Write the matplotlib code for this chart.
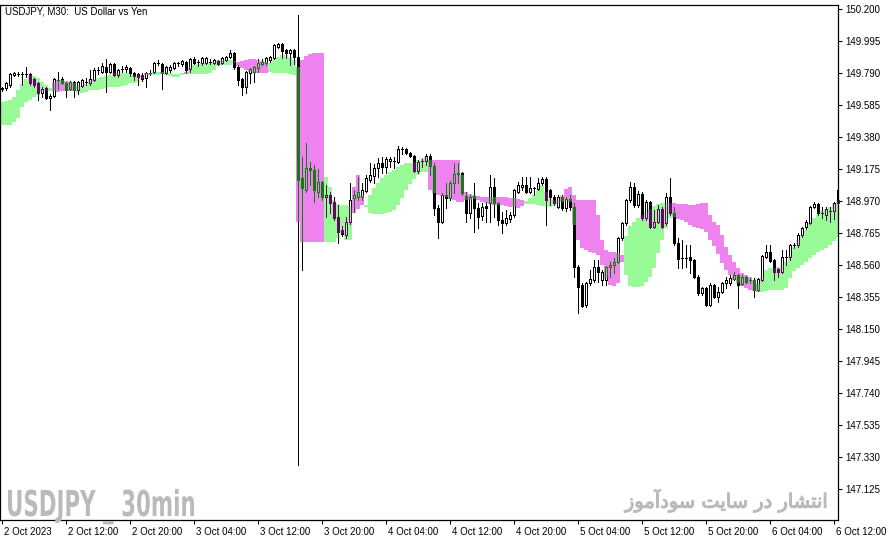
import numpy as np
import matplotlib
matplotlib.use("Agg")
import matplotlib.pyplot as plt
from matplotlib.patches import Rectangle, PathPatch
from matplotlib.textpath import TextPath
from matplotlib.font_manager import FontProperties
from matplotlib import transforms
import matplotlib.patheffects as pe

# USDJPY M30 bars, 2 Oct 2023 -> 6 Oct 2023
OPEN = [149.688, 149.694, 149.713, 149.778, 149.784, 149.786, 149.784, 149.784, 149.752, 149.726,
        149.662, 149.694, 149.630, 149.643, 149.745, 149.752, 149.726, 149.688, 149.733, 149.681,
        149.707, 149.733, 149.726, 149.745, 149.810, 149.797, 149.829, 149.797, 149.848, 149.778,
        149.816, 149.816, 149.822, 149.790, 149.784, 149.778, 149.758, 149.790, 149.797, 149.854,
        149.848, 149.790, 149.810, 149.822, 149.854, 149.848, 149.861, 149.816, 149.880, 149.861,
        149.854, 149.854, 149.861, 149.854, 149.867, 149.854, 149.874, 149.893, 149.918, 149.829,
        149.752, 149.701, 149.790, 149.797, 149.822, 149.848, 149.854, 149.874, 149.886, 149.957,
        149.976, 149.938, 149.918, 149.938, 149.893, 149.118, 149.041, 149.182, 149.169, 149.028,
        149.092, 148.996, 149.009, 148.964, 148.868, 148.785, 148.753, 148.836, 148.990, 148.996,
        148.996, 149.035, 149.105, 149.131, 149.182, 149.214, 149.188, 149.227, 149.227, 149.220,
        149.303, 149.303, 149.278, 149.259, 149.163, 149.227, 149.227, 149.259, 149.195, 148.926,
        148.836, 149.009, 148.990, 149.086, 149.150, 149.150, 149.002, 148.894, 149.002, 148.926,
        148.874, 148.938, 148.958, 149.060, 148.958, 148.849, 148.829, 148.855, 148.881, 149.028,
        149.060, 149.073, 149.028, 149.054, 149.047, 149.086, 149.111, 149.041, 148.996, 148.932,
        148.996, 148.926, 148.983, 148.932, 148.548, 148.432, 148.304, 148.445, 148.464, 148.548,
        148.464, 148.464, 148.548, 148.561, 148.580, 148.733, 148.829, 148.977, 149.060, 148.945,
        149.015, 148.862, 148.964, 148.804, 148.836, 148.919, 148.829, 148.996, 148.894, 148.701,
        148.605, 148.605, 148.612, 148.593, 148.484, 148.381, 148.413, 148.304, 148.432, 148.356,
        148.387, 148.445, 148.445, 148.471, 148.496, 148.439, 148.484, 148.464, 148.464, 148.400,
        148.464, 148.612, 148.644, 148.593, 148.535, 148.516, 148.612, 148.612, 148.688, 148.688,
        148.753, 148.804, 148.829, 148.932, 148.951, 148.894, 148.881, 148.906, 148.906, 148.958]

HIGH = [149.701, 149.733, 149.790, 149.797, 149.797, 149.797, 149.829, 149.790, 149.758, 149.733,
        149.701, 149.701, 149.656, 149.758, 149.797, 149.765, 149.733, 149.739, 149.739, 149.739,
        149.752, 149.758, 149.810, 149.822, 149.829, 149.854, 149.880, 149.854, 149.854, 149.816,
        149.835, 149.842, 149.829, 149.797, 149.790, 149.790, 149.797, 149.810, 149.861, 149.874,
        149.854, 149.835, 149.842, 149.861, 149.861, 149.874, 149.867, 149.886, 149.893, 149.874,
        149.893, 149.893, 149.880, 149.880, 149.874, 149.893, 149.899, 149.938, 149.925, 149.842,
        149.758, 149.803, 149.822, 149.835, 149.880, 149.880, 149.893, 149.899, 149.976, 149.983,
        149.983, 149.944, 149.944, 149.944, 150.162, 149.252, 149.342, 149.220, 149.201, 149.175,
        149.099, 149.073, 149.028, 148.996, 148.945, 148.810, 148.868, 149.086, 149.041, 149.124,
        149.086, 149.137, 149.214, 149.207, 149.246, 149.252, 149.252, 149.252, 149.252, 149.323,
        149.316, 149.310, 149.284, 149.265, 149.233, 149.239, 149.271, 149.271, 149.214, 148.945,
        149.022, 149.086, 149.099, 149.214, 149.214, 149.156, 149.028, 149.009, 149.086, 148.958,
        148.958, 148.964, 149.137, 149.118, 148.964, 148.900, 148.913, 148.900, 149.045, 149.092,
        149.124, 149.124, 149.124, 149.060, 149.118, 149.124, 149.124, 149.045, 149.009, 149.009,
        149.009, 148.996, 149.009, 148.958, 148.561, 148.445, 148.452, 148.528, 148.593, 148.593,
        148.528, 148.552, 148.580, 148.605, 148.740, 148.836, 148.981, 149.092, 149.086, 149.035,
        149.028, 148.977, 148.968, 148.913, 148.945, 148.932, 149.022, 149.118, 148.932, 148.733,
        148.721, 148.688, 148.688, 148.599, 148.496, 148.420, 148.420, 148.445, 148.439, 148.420,
        148.452, 148.484, 148.496, 148.516, 148.500, 148.496, 148.488, 148.477, 148.477, 148.475,
        148.625, 148.688, 148.688, 148.597, 148.541, 148.657, 148.657, 148.692, 148.701, 148.765,
        148.804, 148.849, 148.938, 148.964, 148.958, 148.932, 148.932, 148.932, 148.964, 149.073]

LOW = [149.675, 149.681, 149.701, 149.771, 149.771, 149.713, 149.765, 149.713, 149.701, 149.617,
       149.637, 149.624, 149.553, 149.637, 149.688, 149.720, 149.637, 149.681, 149.637, 149.656,
       149.701, 149.713, 149.713, 149.739, 149.784, 149.790, 149.669, 149.790, 149.771, 149.765,
       149.797, 149.797, 149.771, 149.745, 149.713, 149.739, 149.701, 149.778, 149.790, 149.842,
       149.688, 149.784, 149.797, 149.816, 149.835, 149.835, 149.790, 149.797, 149.848, 149.835,
       149.842, 149.848, 149.848, 149.848, 149.842, 149.848, 149.867, 149.886, 149.816, 149.713,
       149.649, 149.662, 149.726, 149.733, 149.797, 149.842, 149.842, 149.861, 149.880, 149.951,
       149.886, 149.886, 149.842, 149.848, 147.279, 148.528, 149.028, 149.073, 148.964, 148.996,
       148.977, 148.868, 148.894, 148.849, 148.701, 148.746, 148.733, 148.823, 148.900, 148.977,
       148.977, 149.028, 149.092, 149.086, 149.124, 149.150, 149.150, 149.188, 149.182, 149.214,
       149.271, 149.271, 149.252, 149.156, 149.150, 149.188, 149.201, 149.137, 148.881, 148.733,
       148.829, 148.926, 148.977, 149.022, 149.086, 149.009, 148.836, 148.862, 148.772, 148.798,
       148.849, 148.836, 148.836, 148.868, 148.817, 148.765, 148.817, 148.836, 148.868, 149.022,
       149.041, 149.022, 149.022, 149.009, 149.041, 149.073, 148.817, 148.945, 148.945, 148.926,
       148.913, 148.906, 148.913, 148.484, 148.253, 148.291, 148.291, 148.432, 148.452, 148.452,
       148.432, 148.432, 148.484, 148.509, 148.573, 148.721, 148.817, 148.964, 148.932, 148.932,
       148.849, 148.849, 148.800, 148.798, 148.829, 148.800, 148.817, 148.881, 148.688, 148.541,
       148.541, 148.548, 148.509, 148.477, 148.368, 148.368, 148.298, 148.300, 148.352, 148.323,
       148.381, 148.413, 148.432, 148.464, 148.285, 148.432, 148.445, 148.445, 148.356, 148.396,
       148.460, 148.605, 148.580, 148.464, 148.484, 148.512, 148.561, 148.593, 148.669, 148.676,
       148.740, 148.791, 148.823, 148.926, 148.881, 148.862, 148.849, 148.836, 148.855, 148.951]

CLOSE = [149.694, 149.726, 149.784, 149.790, 149.784, 149.784, 149.782, 149.726, 149.713, 149.662,
         149.688, 149.630, 149.643, 149.752, 149.743, 149.726, 149.681, 149.733, 149.681, 149.733,
         149.745, 149.731, 149.752, 149.810, 149.808, 149.835, 149.797, 149.848, 149.778, 149.810,
         149.814, 149.829, 149.790, 149.771, 149.765, 149.752, 149.790, 149.788, 149.854, 149.852,
         149.790, 149.829, 149.829, 149.854, 149.852, 149.867, 149.810, 149.880, 149.854, 149.859,
         149.886, 149.886, 149.859, 149.874, 149.848, 149.886, 149.893, 149.918, 149.829, 149.745,
         149.701, 149.797, 149.816, 149.829, 149.854, 149.861, 149.886, 149.893, 149.970, 149.976,
         149.931, 149.918, 149.938, 149.893, 149.105, 149.054, 149.182, 149.169, 149.041, 149.092,
         148.996, 149.009, 148.958, 148.862, 148.772, 148.759, 148.836, 148.977, 149.009, 149.028,
         149.041, 149.118, 149.137, 149.182, 149.214, 149.188, 149.239, 149.239, 149.225, 149.303,
         149.301, 149.278, 149.259, 149.163, 149.220, 149.225, 149.259, 149.195, 148.926, 148.836,
         149.009, 148.990, 149.086, 149.143, 149.143, 149.022, 148.894, 148.996, 148.926, 148.868,
         148.932, 148.926, 149.060, 148.958, 148.849, 148.829, 148.862, 148.881, 149.041, 149.073,
         149.073, 149.028, 149.054, 149.052, 149.086, 149.111, 148.977, 148.996, 148.958, 148.996,
         148.926, 148.983, 148.932, 148.548, 148.420, 148.298, 148.445, 148.471, 148.548, 148.516,
         148.516, 148.548, 148.561, 148.580, 148.733, 148.829, 148.977, 149.060, 148.945, 149.015,
         148.862, 148.964, 148.804, 148.836, 148.919, 148.804, 148.996, 148.894, 148.701, 148.599,
         148.603, 148.603, 148.593, 148.484, 148.381, 148.413, 148.304, 148.432, 148.356, 148.387,
         148.445, 148.464, 148.477, 148.496, 148.432, 148.484, 148.452, 148.462, 148.400, 148.471,
         148.618, 148.644, 148.586, 148.516, 148.516, 148.612, 148.610, 148.688, 148.686, 148.753,
         148.798, 148.836, 148.932, 148.951, 148.894, 148.892, 148.919, 148.904, 148.958, 149.041]

# Ichimoku cloud edges (already shifted onto the visible bars)
SPAN_A = [149.605, 149.611, 149.617, 149.637, 149.681, 149.720, 149.752, 149.778, 149.771, 149.758,
          149.733, 149.713, 149.694, 149.675, 149.669, 149.675, 149.675, 149.675, 149.675, 149.707,
          149.707, 149.720, 149.745, 149.752, 149.758, 149.765, 149.771, 149.778, 149.790, 149.790,
          149.790, 149.790, 149.784, 149.778, 149.778, 149.778, 149.778, 149.778, 149.797, 149.797,
          149.784, 149.797, 149.790, 149.784, 149.784, 149.790, 149.784, 149.829, 149.842, 149.848,
          149.854, 149.854, 149.854, 149.861, 149.874, 149.874, 149.874, 149.874, 149.867, 149.835,
          149.822, 149.810, 149.797, 149.790, 149.790, 149.790, 149.790, 149.854, 149.874, 149.893,
          149.906, 149.906, 149.893, 149.874, 148.836, 148.708, 148.708, 148.708, 148.708, 148.708,
          148.708, 149.124, 149.060, 148.977, 148.951, 148.945, 148.945, 148.932, 148.894, 148.919,
          148.945, 148.945, 149.009, 149.054, 149.086, 149.118, 149.137, 149.156, 149.169, 149.188,
          149.201, 149.214, 149.214, 149.220, 149.233, 149.246, 149.252, 149.041, 149.022, 149.009,
          149.002, 148.996, 148.983, 148.977, 148.964, 148.964, 148.977, 148.977, 148.983, 148.977,
          148.964, 148.958, 148.951, 148.945, 148.945, 148.945, 148.938, 148.932, 148.932, 148.926,
          148.938, 148.970, 148.990, 149.009, 149.041, 149.066, 149.028, 148.983, 148.977, 148.977,
          148.964, 148.970, 148.964, 148.817, 148.721, 148.669, 148.657, 148.644, 148.637, 148.625,
          148.561, 148.477, 148.432, 148.426, 148.445, 148.580, 148.746, 148.810, 148.836, 148.862,
          148.881, 148.900, 148.919, 148.938, 148.951, 148.958, 148.958, 148.958, 148.868, 148.855,
          148.849, 148.836, 148.817, 148.804, 148.798, 148.791, 148.772, 148.721, 148.682, 148.631,
          148.573, 148.528, 148.496, 148.464, 148.445, 148.426, 148.413, 148.400, 148.394, 148.387,
          148.484, 148.528, 148.541, 148.541, 148.548, 148.561, 148.580, 148.618, 148.676, 148.721,
          148.753, 148.785, 148.829, 148.862, 148.887, 148.906, 148.919, 148.932, 148.951, 148.977]

SPAN_B = [149.457, 149.457, 149.457, 149.476, 149.502, 149.573, 149.605, 149.617, 149.637, 149.649,
          149.669, 149.675, 149.675, 149.733, 149.745, 149.745, 149.739, 149.733, 149.726, 149.662,
          149.662, 149.669, 149.681, 149.681, 149.681, 149.688, 149.694, 149.701, 149.701, 149.701,
          149.707, 149.713, 149.726, 149.726, 149.733, 149.752, 149.790, 149.790, 149.778, 149.778,
          149.797, 149.778, 149.771, 149.765, 149.765, 149.778, 149.797, 149.784, 149.784, 149.784,
          149.784, 149.784, 149.790, 149.810, 149.835, 149.842, 149.842, 149.842, 149.854, 149.861,
          149.867, 149.874, 149.880, 149.880, 149.874, 149.867, 149.861, 149.797, 149.790, 149.790,
          149.790, 149.790, 149.784, 149.778, 149.829, 149.874, 149.899, 149.912, 149.918, 149.918,
          149.918, 148.708, 148.708, 148.708, 148.733, 148.765, 148.721, 148.721, 149.060, 149.137,
          149.009, 148.932, 148.894, 148.887, 148.887, 148.887, 148.894, 148.900, 148.913, 148.945,
          148.990, 149.041, 149.079, 149.111, 149.137, 149.156, 149.156, 149.233, 149.233, 149.233,
          149.233, 149.233, 149.233, 149.233, 149.233, 149.137, 149.028, 149.015, 149.009, 149.002,
          148.996, 148.996, 148.996, 148.996, 148.996, 148.996, 148.996, 148.990, 148.990, 148.983,
          148.977, 148.951, 148.951, 148.951, 148.945, 148.938, 148.938, 148.932, 148.938, 148.951,
          149.002, 149.047, 149.060, 149.009, 148.977, 148.977, 148.977, 148.977, 148.977, 148.881,
          148.721, 148.657, 148.644, 148.644, 148.637, 148.625, 148.496, 148.426, 148.420, 148.420,
          148.426, 148.452, 148.484, 148.541, 148.637, 148.721, 148.798, 148.862, 148.958, 148.951,
          148.951, 148.951, 148.945, 148.945, 148.951, 148.958, 148.958, 148.881, 148.836, 148.817,
          148.753, 148.676, 148.625, 148.580, 148.541, 148.509, 148.496, 148.484, 148.464, 148.439,
          148.387, 148.394, 148.400, 148.400, 148.400, 148.400, 148.413, 148.477, 148.522, 148.541,
          148.561, 148.580, 148.605, 148.625, 148.644, 148.657, 148.669, 148.688, 148.714, 148.740]

Y_TICKS = [150.200, 149.995, 149.790, 149.585, 149.380, 149.175, 148.970, 148.765,
           148.560, 148.355, 148.150, 147.945, 147.740, 147.535, 147.330, 147.125]
X_TICK_BARS = [0, 16, 32, 48, 64, 80, 96, 112, 128, 144, 160, 176, 192, 208]
X_TICK_LABELS = ["2 Oct 2023", "2 Oct 12:00", "2 Oct 20:00", "3 Oct 04:00", "3 Oct 12:00",
                 "3 Oct 20:00", "4 Oct 04:00", "4 Oct 12:00", "4 Oct 20:00", "5 Oct 04:00",
                 "5 Oct 12:00", "5 Oct 20:00", "6 Oct 04:00", "6 Oct 12:00"]

GREEN, PINK = "#98fb98", "#ee82ee"
# terminal draws black over the cloud inverted
INV = {GREEN: "#670467", PINK: "#117d11"}
WM_GRAY = "#bababa"
LW = 0.72


def draw_candle(ax, i, color, clip=None):
    o, h, l, c = OPEN[i], HIGH[i], LOW[i], CLOSE[i]
    lo, hi = min(o, c), max(o, c)
    arts = []
    arts += ax.plot([i, i], [l, lo], color=color, lw=LW, solid_capstyle="butt",
                    antialiased=False, zorder=3)
    arts += ax.plot([i, i], [hi, h], color=color, lw=LW, solid_capstyle="butt",
                    antialiased=False, zorder=3)
    body = Rectangle((i - 0.25, lo), 0.5, hi - lo, lw=LW, edgecolor=color,
                     facecolor=color if c < o else "none", antialiased=False, zorder=3)
    ax.add_patch(body)
    arts.append(body)
    if clip is not None:
        for a in arts:
            a.set_clip_path(clip)


def main():
    fig = plt.figure(figsize=(8.92, 5.43), dpi=100)
    ax = fig.add_axes([0, 23 / 543, 838 / 892, 515 / 543])
    n = len(CLOSE)
    x = np.arange(n)
    a = np.array(SPAN_A)
    b = np.array(SPAN_B)
    top = np.maximum(a, b)
    bot = np.minimum(a, b)
    cols = [GREEN if a[i] >= b[i] else PINK for i in range(n)]

    ax.bar(x, top - bot, bottom=bot, width=1.0, color=cols, linewidth=0,
           antialiased=False, zorder=1)

    for i in range(n):
        draw_candle(ax, i, "black")
        if HIGH[i] >= bot[i] and LOW[i] <= top[i]:
            clip = Rectangle((i - 0.5, bot[i]), 1.0, top[i] - bot[i], transform=ax.transData)
            draw_candle(ax, i, INV[cols[i]], clip=clip)

    ax.set_xlim(-0.5, 209.0)
    ax.set_ylim(146.927, 150.226)

    ax.yaxis.tick_right()
    ax.set_yticks(Y_TICKS)
    ax.set_yticklabels(["%.3f" % v for v in Y_TICKS])
    ax.set_xticks(X_TICK_BARS)
    ax.set_xticklabels(X_TICK_LABELS)
    ax.tick_params(axis="both", direction="out", length=3, width=0.75, pad=2,
                   labelsize=7, labelfontfamily="Liberation Sans")
    shift = transforms.ScaledTranslation(2 / 100, 0, fig.dpi_scale_trans)
    for lbl in ax.get_xticklabels():
        lbl.set_horizontalalignment("left")
        lbl.set_transform(lbl.get_transform() + shift)
    for s in ax.spines.values():
        s.set_linewidth(0.9)

    ax.text(5 / 838, (515 - 7) / 515, "USDJPY, M30:  US Dollar vs Yen", transform=ax.transAxes,
            ha="left", va="center", fontsize=7.0, family="Liberation Sans")

    # condensed bold watermark: squeeze a bold text path into the box of the original
    tp = TextPath((0, 0), "USDJPY _ 30min", size=1,
                  prop=FontProperties(family="DejaVu Sans", weight="bold"))
    bb = tp.get_extents()
    sx = 186 / bb.width
    sy = 26 / 0.729
    tr = transforms.Affine2D().scale(sx, sy).translate(8 - bb.x0 * sx, 543 - 516)
    fig.add_artist(PathPatch(tp, transform=tr, facecolor=WM_GRAY, edgecolor="none"))

    # Persian watermark, glyphs in presentation forms and visual order
    fa = ("\uFEAF\uFEEE\uFEE3\uFE81\uFEA9\uFEEE\uFEB3 \uFE96\uFEF3\uFE8E\uFEB3 "
          "\uFEAD\uFEA9 \uFEAD\uFE8E\uFEB8\uFE98\uFEE7\uFE8D")
    ax.text(829 / 838, (520 - 501) / 515, fa, transform=ax.transAxes, ha="right",
            va="center", fontsize=14, family="DejaVu Sans", color=WM_GRAY,
            path_effects=[pe.withStroke(linewidth=0.8, foreground=WM_GRAY)])

    fig.savefig("out.png", dpi=100)
    plt.close(fig)


if __name__ == "__main__":
    main()
